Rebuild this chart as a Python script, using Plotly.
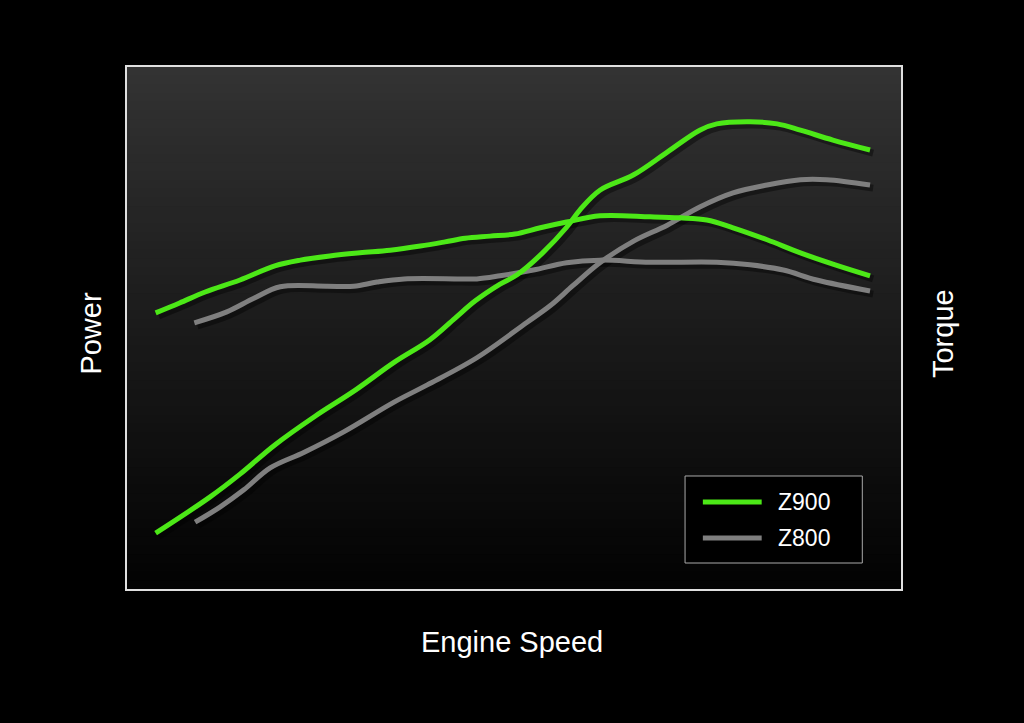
import plotly.graph_objects as go

# --- data (engine speed %, output %) ---
z900_power_x = [3.7, 10.7, 14.6, 19.1, 24.3, 29.5, 34.6, 39.1, 42.4, 45.0, 48.2, 50.4, 53.7, 56.8,
                58.5, 61.1, 65.4, 69.8, 74.0, 76.2, 80.5, 84.0, 87.0, 91.2, 96.0]
z900_power_y = [10.7, 17.6, 22.0, 27.6, 33.1, 38.1, 43.5, 47.7, 51.9, 55.2, 58.4, 60.2, 64.4, 69.3,
                72.6, 76.4, 79.3, 83.7, 87.9, 89.1, 89.5, 89.1, 87.9, 86.0, 84.1]

z900_torque_x = [3.7, 6.8, 10.1, 14.6, 19.1, 22.4, 26.2, 30.1, 34.0, 37.9, 41.1, 43.7, 46.9, 50.1,
                 53.4, 56.8, 61.1, 67.6, 71.4, 74.9, 78.3, 82.7, 87.0, 91.5, 96.0]
z900_torque_y = [52.9, 54.8, 56.9, 59.2, 61.9, 63.0, 63.8, 64.4, 64.9, 65.7, 66.5, 67.2, 67.6, 68.0,
                 69.2, 70.3, 71.5, 71.3, 71.1, 70.7, 69.2, 66.9, 64.4, 62.1, 60.0]

z800_power_x = [8.8, 12.0, 15.1, 18.5, 22.9, 28.0, 34.5, 38.8, 45.2, 51.7, 54.7, 57.6, 61.1, 65.4,
                69.8, 74.0, 78.3, 82.7, 87.0, 90.4, 96.0]
z800_power_y = [12.8, 15.7, 19.0, 23.2, 26.2, 30.1, 35.8, 39.1, 44.3, 51.1, 54.3, 58.1, 62.5, 66.6,
                69.7, 73.2, 75.9, 77.4, 78.4, 78.4, 77.4]

z800_torque_x = [8.7, 12.9, 16.4, 19.8, 25.8, 29.3, 32.3, 35.8, 43.0, 45.2, 48.2, 52.5, 56.8, 61.1,
                 67.6, 76.2, 80.5, 84.8, 89.1, 96.0]
z800_torque_y = [51.0, 53.1, 55.7, 57.9, 58.0, 58.0, 58.8, 59.4, 59.4, 59.4, 60.0, 61.1, 62.5, 63.0,
                 62.6, 62.6, 62.1, 61.1, 59.2, 57.1]

models = ['Z900', 'Z800']
GREEN = '#4ce817'
GREY = '#7f7f7f'
FONT = 'Liberation Sans, Arial, sans-serif'

fig = go.Figure()

# soft shadows under the lines
for xs, ys in [(z800_power_x, z800_power_y), (z800_torque_x, z800_torque_y),
               (z900_power_x, z900_power_y), (z900_torque_x, z900_torque_y)]:
    fig.add_trace(go.Scatter(x=[v + 0.4 for v in xs], y=[v - 0.6 for v in ys], mode='lines',
                             line=dict(color='rgba(0,0,0,0.4)', width=7, shape='spline', smoothing=1.0),
                             hoverinfo='skip', showlegend=False))

ldict = dict(width=5, shape='spline', smoothing=1.0)
fig.add_trace(go.Scatter(x=z800_power_x, y=z800_power_y, mode='lines', name='Z800',
                         line=dict(color=GREY, **ldict), showlegend=False))
fig.add_trace(go.Scatter(x=z800_torque_x, y=z800_torque_y, mode='lines', name='Z800',
                         line=dict(color=GREY, **ldict), showlegend=False))
fig.add_trace(go.Scatter(x=z900_power_x, y=z900_power_y, mode='lines', name='Z900',
                         line=dict(color=GREEN, **ldict), showlegend=False))
fig.add_trace(go.Scatter(x=z900_torque_x, y=z900_torque_y, mode='lines', name='Z900',
                         line=dict(color=GREEN, **ldict), showlegend=False))

# background gradient: dark grey at top to black at bottom
shapes = []
n = 60
for i in range(n):
    t = i / (n - 1)
    c = int(3 + 48 * t)
    shapes.append(dict(type='rect', xref='paper', yref='paper', x0=0, x1=1,
                       y0=i / n, y1=(i + 1) / n + 0.002, layer='below',
                       line=dict(width=0), fillcolor='rgb(%d,%d,%d)' % (c, c, c)))

# legend drawn by hand (longer samples than plotly's own)
shapes.append(dict(type='rect', xref='paper', yref='paper', x0=0.721, x1=0.950, y0=0.0498, y1=0.2165,
                   line=dict(color='#aaaaaa', width=1), fillcolor='black'))
leg_y = [0.1667, 0.0977]
annotations = []
for m, col, yy in zip(models, [GREEN, GREY], leg_y):
    shapes.append(dict(type='line', xref='paper', yref='paper', x0=0.744, x1=0.820, y0=yy, y1=yy,
                       line=dict(color=col, width=5)))
    annotations.append(dict(text=m, xref='paper', yref='paper', x=0.839, y=yy, xanchor='left',
                            yanchor='middle', showarrow=False, font=dict(size=23, color='white')))

annotations += [
    dict(text='Power', xref='paper', yref='paper', x=-0.046, y=0.49, textangle=-90,
         showarrow=False, font=dict(size=29, color='white'), xanchor='center', yanchor='middle'),
    dict(text='Torque', xref='paper', yref='paper', x=1.054, y=0.49, textangle=-90,
         showarrow=False, font=dict(size=29, color='white'), xanchor='center', yanchor='middle'),
    dict(text='Engine Speed', xref='paper', yref='paper', x=0.497, y=-0.102,
         showarrow=False, font=dict(size=29, color='white'), xanchor='center', yanchor='middle'),
]

axis = dict(range=[0, 100], showgrid=False, zeroline=False, showticklabels=False, ticks='',
            showline=True, mirror=True, linecolor='#e0e0e0', linewidth=2)

fig.update_layout(xaxis=axis, yaxis=axis,
                  shapes=shapes, annotations=annotations,
                  paper_bgcolor='black', plot_bgcolor='black',
                  font=dict(family=FONT, color='white'),
                  margin=dict(l=127, r=123, t=67, b=134),
                  autosize=False, width=1024, height=723,
                  showlegend=False)

# remove the page margin so the figure fills the window
fig.write_html("out.html", config={'displayModeBar': False},
               post_script="document.body.style.margin='0';document.body.style.background='black';"
                           "document.body.style.overflow='hidden';")
